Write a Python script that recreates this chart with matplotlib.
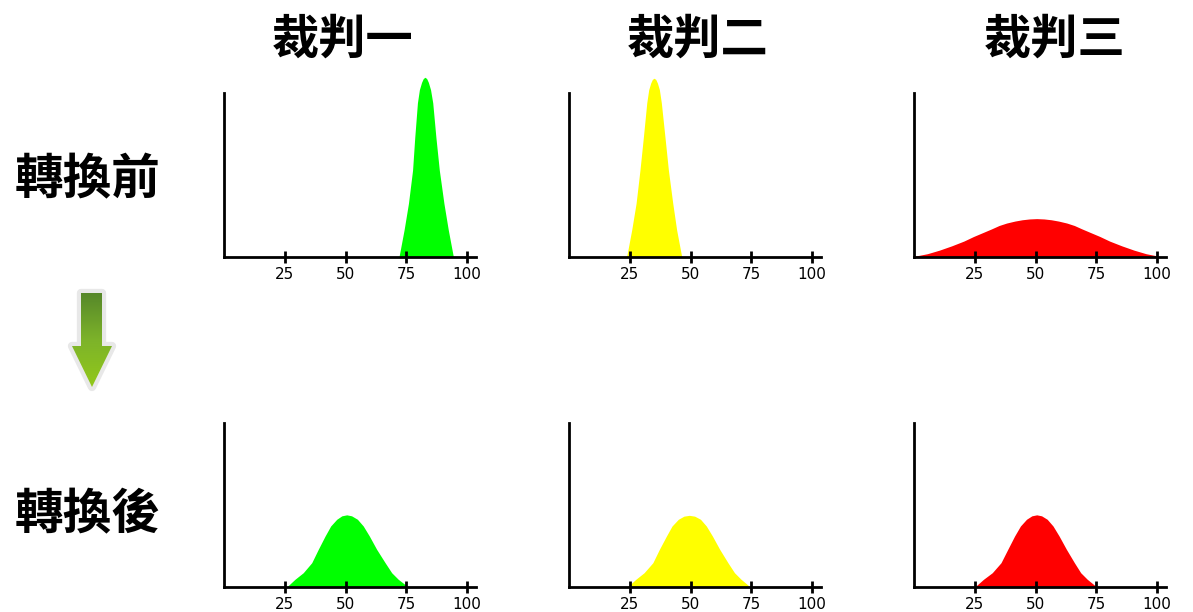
import matplotlib.pyplot as plt
import numpy as np
from matplotlib.patches import Polygon
from matplotlib.colors import LinearSegmentedColormap

plt.rcParams['font.family'] = ['Noto Sans CJK TC', 'DejaVu Sans']

judges = ['裁判一', '裁判二', '裁判三']
rows = ['轉換前', '轉換後']
colors = ['#00ff00', '#ffff00', '#ff0000']
ticks = [25, 50, 75, 100]
tick_labels = ['25', '50', '75', '100']

# curves (x in score units, y relative to axis height)
before_x1 = [72.0, 74.1, 75.9, 77.6, 78.5, 79.6, 80.4, 81.3, 82.0, 82.7, 83.4, 84.1, 85.0, 85.9, 87.2, 88.6, 90.5, 92.3, 94.4]
before_y1 = [0.0, 0.165, 0.327, 0.53, 0.73, 0.94, 1.02, 1.065, 1.088, 1.096, 1.088, 1.065, 1.02, 0.94, 0.73, 0.53, 0.327, 0.165, 0.0]
before_x2 = [23.7, 25.8, 27.6, 29.2, 30.6, 32.0, 32.8, 33.6, 34.3, 35.0, 35.7, 36.4, 37.2, 38.0, 39.5, 40.9, 42.7, 44.3, 46.4]
before_y2 = [0.0, 0.165, 0.327, 0.53, 0.73, 0.94, 1.02, 1.06, 1.083, 1.09, 1.083, 1.06, 1.02, 0.94, 0.73, 0.53, 0.327, 0.165, 0.0]
before_x3 = [0, 5.5, 10.5, 15.5, 20.5, 24.5, 28.5, 32, 35, 38.1, 41.5, 44.5, 47.5, 50.5, 53.5, 56.5, 59.5, 62.9, 66, 69, 72.5, 76.5, 80.5, 85.5, 90.5, 95.5, 101]
before_y3 = [0.004, 0.02, 0.042, 0.068, 0.097, 0.125, 0.15, 0.172, 0.192, 0.207, 0.219, 0.227, 0.232, 0.234, 0.232, 0.227, 0.219, 0.207, 0.192, 0.172, 0.15, 0.125, 0.097, 0.068, 0.042, 0.02, 0.004]

after_x1 = [25.8, 29.2, 32.6, 36.1, 38.8, 41.6, 43.9, 46.4, 48.5, 50.5, 52.5, 54.9, 57.3, 59.8, 62.8, 66.3, 69.0, 71.7, 75.8]
after_y1 = [0.0, 0.047, 0.087, 0.148, 0.23, 0.311, 0.372, 0.413, 0.434, 0.44, 0.434, 0.413, 0.372, 0.311, 0.23, 0.148, 0.087, 0.047, 0.0]
after_x2 = [24.0, 27.5, 30.9, 34.5, 37.2, 40.1, 42.4, 45.0, 47.3, 49.5, 51.7, 54.1, 56.5, 59.0, 62.0, 65.4, 68.1, 70.8, 74.6]
after_y2 = [0.0, 0.047, 0.087, 0.148, 0.23, 0.311, 0.372, 0.413, 0.432, 0.437, 0.432, 0.413, 0.372, 0.311, 0.23, 0.148, 0.087, 0.047, 0.0]
after_x3 = [25.0, 28.6, 32.2, 35.8, 38.6, 41.4, 43.8, 46.3, 48.5, 50.5, 52.5, 54.8, 57.2, 59.7, 62.7, 66.0, 68.6, 71.3, 75.2]
after_y3 = [0.0, 0.047, 0.087, 0.148, 0.23, 0.311, 0.372, 0.413, 0.434, 0.44, 0.434, 0.413, 0.372, 0.311, 0.23, 0.148, 0.087, 0.047, 0.0]

curves = [[(before_x1, before_y1), (before_x2, before_y2), (before_x3, before_y3)],
          [(after_x1, after_y1), (after_x2, after_y2), (after_x3, after_y3)]]

W, H = 1193, 612
fig = plt.figure(figsize=(W / 100, H / 100), dpi=100)

lefts = [224, 569, 914]
bottoms = [257, 587]
for r in range(2):
    for c in range(3):
        ax = fig.add_axes([lefts[c] / W, 1 - bottoms[r] / H, 252 / W, 164 / H])
        x, y = curves[r][c]
        ax.fill_between(x, y, 0, color=colors[c], lw=0, clip_on=False)
        ax.set_xlim(0, 103.7)
        ax.set_ylim(0, 1)
        for s in ['top', 'right']:
            ax.spines[s].set_visible(False)
        for s in ['left', 'bottom']:
            ax.spines[s].set_linewidth(2)
            ax.spines[s].set_color('black')
        ax.set_yticks([])
        ax.set_xticks(ticks)
        ax.set_xticklabels(tick_labels, fontsize=11, family='DejaVu Sans')
        ax.tick_params(axis='x', direction='inout', length=8, width=2, pad=3)
        ax.patch.set_alpha(0)

# overlay in pixel coordinates for text and arrow
ov = fig.add_axes([0, 0, 1, 1], zorder=-1)
ov.axis('off')

title_x = [343, 698, 1055]
for i, t in enumerate(judges):
    ov.text(title_x[i], 40, t, fontsize=34, fontweight='bold', ha='center', va='center')
ov.text(88, 180, rows[0], fontsize=35, fontweight='bold', ha='center', va='center')
ov.text(88, 515, rows[1], fontsize=35, fontweight='bold', ha='center', va='center')

# green arrow with light outline
arrow = [(81, 293), (102, 293), (102, 346), (112, 346), (92, 387), (72, 346), (81, 346)]
ov.add_patch(Polygon(arrow, closed=True, fc='#e8e8e8', ec='#e8e8e8', lw=6, joinstyle='round', zorder=1))
poly = Polygon(arrow, closed=True, fc='none', ec='none')
ov.add_patch(poly)
grad = np.linspace(0, 1, 100).reshape(-1, 1)
cmap = LinearSegmentedColormap.from_list('g', ['#558629', '#7db32a', '#93c91a'])
im = ov.imshow(grad, cmap=cmap, extent=(70, 114, 389, 291), aspect='auto', origin='upper', zorder=2)
im.set_clip_path(poly)
ov.set_xlim(0, W)
ov.set_ylim(H, 0)

fig.savefig('out.png', dpi=100, facecolor='white')
